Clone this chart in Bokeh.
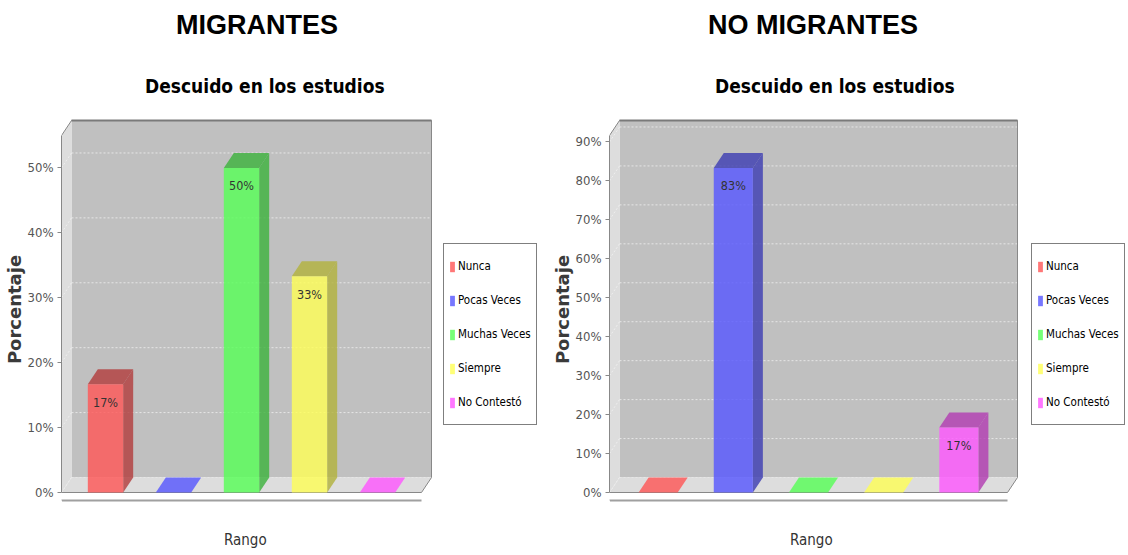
from bokeh.plotting import figure
from bokeh.layouts import row
from bokeh.models import (ColumnDataSource, FixedTicker, PrintfTickFormatter, Range1d,
                          Legend, LegendItem, Title, CustomJSTickFormatter)
from bokeh.core.properties import value
from bokeh.embed import file_html
from bokeh.resources import INLINE

# ---------------- data ----------------
categories = ["Nunca", "Pocas Veces", "Muchas Veces", "Siempre", "No Contestó"]
migrantes = [16.67, 0.0, 50.0, 33.33, 0.0]
no_migrantes = [0.0, 83.33, 0.0, 0.0, 16.67]
ticks_migrantes = [0, 10, 20, 30, 40, 50]
ticks_no_migrantes = [0, 10, 20, 30, 40, 50, 60, 70, 80, 90]
headers = ["MIGRANTES", "NO MIGRANTES"]
chart_title = "Descuido en los estudios"
x_label = "Rango"
y_label = "Porcentaje"

# ---------------- style ----------------
colors = ["#FF5555", "#5555FF", "#55FF55", "#FFFF55", "#FF55FF"]
dark_colors = ["#B23B3B", "#3B3BB2", "#3BB23B", "#B2B23B", "#B23BB2"]
NARROW = "'DejaVu Sans Condensed', 'DejaVu Sans', sans-serif"
ARIAL = "'Liberation Sans', Arial, sans-serif"
DVB = "'DejaVu Sans', sans-serif"
WALL = "#C0C0C0"
FLOOR = "#DDDDDD"
EDGE = "#888888"

FRONT_H = 357   # px height of front plot area
DX, DY = 10, 15  # 3D depth offset in px
BELOW = 8       # px between floor front edge and x axis line
PAD = 2
MARGIN = 0.647  # category margin (in category units)
BAR_W = 0.52


def make_chart(vals, ticks, header, front_w, frame_w, header_off, title_off,
               xlabel_off, legend_x):
    n = len(vals)
    y_max = max(vals) * 1.1
    ppu_y = FRONT_H / y_max
    unit_x = front_w / (n - 1 + 2 * MARGIN)
    ddx = DX / unit_x
    ddy = DY / ppu_y
    xl = -MARGIN
    xrf = n - 1 + MARGIN
    xrb = xrf + ddx
    ytb = y_max + ddy

    p = figure(x_range=Range1d(xl, xl + frame_w / unit_x),
               y_range=Range1d(-BELOW / ppu_y, ytb + PAD / ppu_y),
               frame_width=frame_w,
               frame_height=FRONT_H + DY + BELOW + PAD,
               min_border_left=61, min_border_right=0,
               min_border_top=118, min_border_bottom=52,
               output_backend="svg", toolbar_location=None, title=None)
    p.outline_line_color = None
    p.background_fill_color = "white"
    p.border_fill_color = "white"
    p.xgrid.visible = False
    p.ygrid.visible = False

    # walls and floor
    p.quad(left=[xl + ddx], right=[xrb], bottom=[ddy], top=[ytb],
           fill_color=WALL, line_color=None)
    p.patch([xl, xl + ddx, xl + ddx, xl], [0, ddy, ytb, y_max],
            fill_color=FLOOR, line_color=None)
    p.patch([xl, xrf, xrb, xl + ddx], [0, 0, ddy, ddy],
            fill_color=FLOOR, line_color=None)

    # grid lines on back wall and side wall
    gx0 = [xl + ddx] * len(ticks)
    gx1 = [xrb] * len(ticks)
    gy = [t + ddy for t in ticks]
    p.segment(x0=gx0, y0=gy, x1=gx1, y1=gy, line_color="#E6E6E6",
              line_width=1, line_dash="2 2")
    p.segment(x0=[xl] * len(ticks), y0=ticks, x1=[xl + ddx] * len(ticks), y1=gy,
              line_color="#EEEEEE", line_width=1, line_dash="2 2")

    # outline
    p.line([xl, xl + ddx, xrb, xrb, xrf, xl], [y_max, ytb, ytb, ddy, 0, 0],
           line_color=EDGE, line_width=1)
    p.line([xl + ddx, xrb], [ytb, ytb], line_color="#7A7A7A", line_width=2)

    # 3D bars
    idx = list(range(n))
    left = [i - BAR_W / 2 for i in idx]
    right = [i + BAR_W / 2 for i in idx]
    top_colors = [dark_colors[i] if vals[i] > 0 else colors[i] for i in idx]
    src = ColumnDataSource(dict(
        left=left, right=right, v=vals, color=colors, dark=dark_colors,
        topc=top_colors,
        side_xs=[[r, r + ddx, r + ddx, r] for r in right],
        side_ys=[[0, ddy, v + ddy, v] for v in vals],
        top_xs=[[l, r, r + ddx, l + ddx] for l, r in zip(left, right)],
        top_ys=[[v, v, v + ddy, v + ddy] for v in vals],
    ))
    p.patches(xs="side_xs", ys="side_ys", source=src, fill_color="dark",
              fill_alpha=0.8, line_color=None)
    p.patches(xs="top_xs", ys="top_ys", source=src, fill_color="topc",
              fill_alpha=0.8, line_color=None)
    front = p.quad(left="left", right="right", bottom=0, top="v", source=src,
                   fill_color="color", fill_alpha=0.8, line_color=None)

    # value labels
    lab_x = [i for i in idx if vals[i] > 0]
    lab_y = [vals[i] for i in idx if vals[i] > 0]
    lab_t = ["%d%%" % round(vals[i]) for i in idx if vals[i] > 0]
    p.text(x=lab_x, y=lab_y, text=lab_t, text_align="center",
           text_baseline="middle", y_offset=18, text_font=value(NARROW),
           text_font_size="12.5px", text_color="#333333")

    # axes
    ya = p.yaxis[0]
    ya.ticker = FixedTicker(ticks=ticks)
    ya.formatter = PrintfTickFormatter(format="%d%%")
    ya.bounds = (0, y_max)
    ya.axis_line_color = EDGE
    ya.major_tick_line_color = EDGE
    ya.major_tick_out = 4
    ya.major_tick_in = 0
    ya.minor_tick_line_color = None
    ya.major_label_standoff = 4
    ya.major_label_text_font = NARROW
    ya.major_label_text_font_size = "13px"
    ya.major_label_text_color = "#555555"
    ya.axis_label = y_label
    ya.axis_label_text_font = DVB
    ya.axis_label_text_font_style = "bold"
    ya.axis_label_text_font_size = "18px"
    ya.axis_label_text_color = "#3A3A3A"
    ya.axis_label_standoff = 0

    # x axis: a single blank white tick at the axis start only reserves room
    xa = p.xaxis[0]
    xa.ticker = FixedTicker(ticks=[xl])
    xa.formatter = CustomJSTickFormatter(code="return ''")
    xa.bounds = (xl, xrf)
    xa.axis_line_color = "#A0A0A0"
    xa.axis_line_width = 2
    xa.major_tick_out = 28
    xa.major_tick_in = 0
    xa.major_tick_line_color = "white"
    xa.minor_tick_line_color = None
    xa.major_label_standoff = 0
    xa.major_label_text_font_size = "0px"

    # x axis title (below the axis, placed under the plot box)
    p.add_layout(Title(text=x_label, align="left", offset=xlabel_off,
                       standoff=4, vertical_align="top",
                       text_font=NARROW, text_font_style="normal",
                       text_font_size="15px", text_color="#333333"), "below")

    # headings (first added sits nearest the plot)
    p.add_layout(Title(text=chart_title, align="left", offset=title_off,
                       standoff=44, vertical_align="bottom",
                       text_font=NARROW, text_font_style="bold",
                       text_font_size="19px", text_color="black"), "above")
    p.add_layout(Title(text=header, align="left", offset=header_off,
                       standoff=18, vertical_align="top",
                       text_font=ARIAL, text_font_style="bold",
                       text_font_size="27px", text_color="black"), "above")

    # legend
    items = [LegendItem(label=c, renderers=[front], index=i)
             for i, c in enumerate(categories)]
    legend = Legend(items=items, location=(legend_x, 75),
                    orientation="vertical",
                    glyph_width=6, glyph_height=13, label_height=34,
                    label_standoff=3, spacing=0, padding=5, margin=0,
                    border_line_color="black", border_line_width=1,
                    background_fill_color="white", background_fill_alpha=1.0,
                    label_text_font=NARROW, label_text_font_size="11.5px",
                    label_text_color="black")
    p.add_layout(legend)
    return p


p1 = make_chart(migrantes, ticks_migrantes, headers[0], front_w=360, frame_w=487,
                header_off=114.5, title_off=83.5, xlabel_off=162.5, legend_x=382)
p2 = make_chart(no_migrantes, ticks_no_migrantes, headers[1], front_w=398,
                frame_w=517, header_off=98.5, title_off=105.5, xlabel_off=180.5,
                legend_x=422)

p = row(p1, p2)
open("out.html", "w").write(file_html(p, INLINE))
